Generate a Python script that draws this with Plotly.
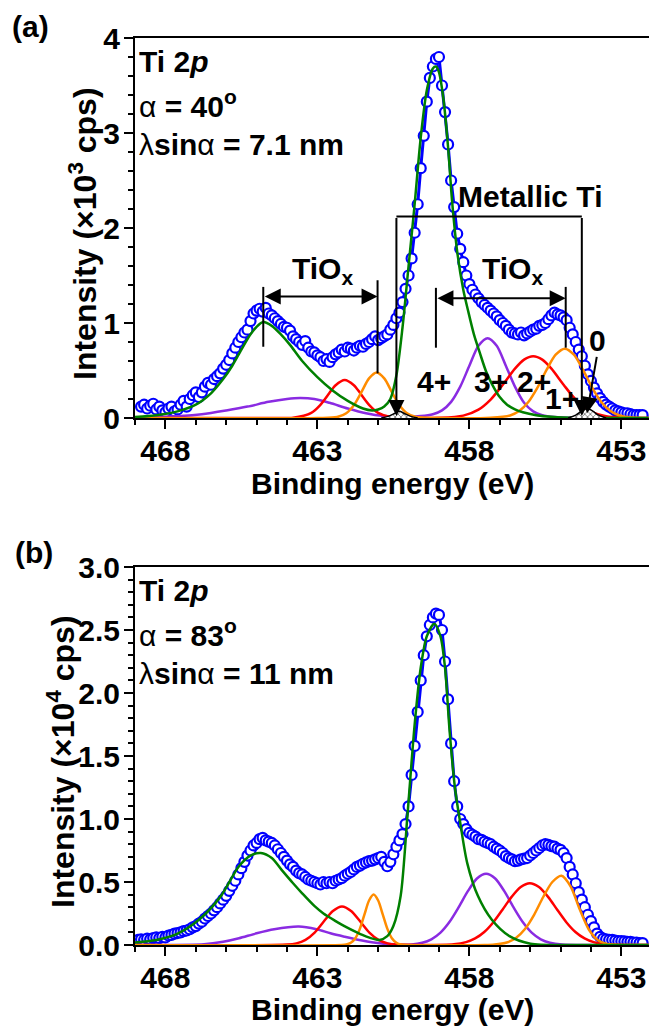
import plotly.graph_objects as go

# ---------------- data ----------------
E_GRID = [
    468.9, 468.8, 468.7, 468.6, 468.5, 468.4, 468.3, 468.2, 468.1, 468.0,
    467.9, 467.8, 467.7, 467.6, 467.5, 467.4, 467.3, 467.2, 467.1, 467.0,
    466.9, 466.8, 466.7, 466.6, 466.5, 466.4, 466.3, 466.2, 466.1, 466.0,
    465.9, 465.8, 465.7, 465.6, 465.5, 465.4, 465.3, 465.2, 465.1, 465.0,
    464.9, 464.8, 464.7, 464.6, 464.5, 464.4, 464.3, 464.2, 464.1, 464.0,
    463.9, 463.8, 463.7, 463.6, 463.5, 463.4, 463.3, 463.2, 463.1, 463.0,
    462.9, 462.8, 462.7, 462.6, 462.5, 462.4, 462.3, 462.2, 462.1, 462.0,
    461.9, 461.8, 461.7, 461.6, 461.5, 461.4, 461.3, 461.2, 461.1, 461.0,
    460.9, 460.8, 460.7, 460.6, 460.5, 460.4, 460.3, 460.2, 460.1, 460.0,
    459.9, 459.8, 459.7, 459.6, 459.5, 459.4, 459.3, 459.2, 459.1, 459.0,
    458.9, 458.8, 458.7, 458.6, 458.5, 458.4, 458.3, 458.2, 458.1, 458.0,
    457.9, 457.8, 457.7, 457.6, 457.5, 457.4, 457.3, 457.2, 457.1, 457.0,
    456.9, 456.8, 456.7, 456.6, 456.5, 456.4, 456.3, 456.2, 456.1, 456.0,
    455.9, 455.8, 455.7, 455.6, 455.5, 455.4, 455.3, 455.2, 455.1, 455.0,
    454.9, 454.8, 454.7, 454.6, 454.5, 454.4, 454.3, 454.2, 454.1, 454.0,
    453.9, 453.8, 453.7, 453.6, 453.5, 453.4, 453.3, 453.2, 453.1, 453.0,
    452.9, 452.8, 452.7, 452.6, 452.5, 452.4, 452.3,
]

# panel (a): x10^3 cps
I_TOP = [
    None, 0.12, 0.14, 0.10, 0.13, 0.15, 0.09, 0.12, 0.08, 0.06,
    0.10, 0.12, 0.07, 0.09, 0.14, 0.18, 0.12, 0.20, 0.24, 0.27,
    0.22, 0.27, 0.33, 0.37, 0.35, 0.41, 0.44, 0.47, 0.52, 0.56,
    0.61, 0.68, 0.74, 0.80, 0.85, 0.90, 0.93, 1.02, 1.10, 1.13,
    1.15, 1.12, 1.16, 1.10, 1.08, 1.05, 1.02, 0.99, 0.96, 0.95,
    0.92, 0.86, 0.83, 0.80, 0.77, 0.81, 0.74, 0.70, 0.69, 0.66,
    0.64, 0.60, 0.62, 0.59, 0.64, 0.67, 0.69, 0.72, 0.70, 0.74,
    0.73, 0.71, 0.74, 0.76, 0.75, 0.78, 0.80, 0.83, 0.86, 0.82,
    0.84, 0.86, 0.88, 0.93, 0.98, 1.05, 1.11, 1.22, 1.36, 1.50,
    1.68, 1.95, 2.25, 2.63, 2.97, 3.33, 3.58, 3.70, 3.78, 3.80,
    3.50, 3.22, 2.88, 2.50, 2.22, 1.94, 1.78, 1.64, 1.50, 1.41,
    1.35, 1.30, 1.26, 1.22, 1.19, 1.16, 1.13, 1.10, 1.07, 1.03,
    1.00, 0.97, 0.93, 0.90, 0.89, 0.88, 0.90, 0.87, 0.89, 0.91,
    0.93, 0.94, 0.97, 0.98, 1.00, 1.04, 1.08, 1.11, 1.09, 1.08,
    1.06, 1.03, 0.95, 0.88, 0.80, 0.72, 0.65, 0.55, 0.46, 0.39,
    0.32, 0.26, 0.21, 0.17, 0.14, 0.12, 0.10, 0.08, 0.07, 0.06,
    0.05, 0.05, 0.04, 0.03, 0.03, 0.03, 0.03,
]

# panel (b): x10^4 cps
I_BOT = [
    0.04, 0.045, 0.04, 0.05, 0.045, 0.055, 0.06, 0.055, 0.065, 0.06,
    0.075, 0.08, 0.09, 0.095, 0.10, 0.11, 0.115, 0.125, 0.14, 0.15,
    0.17, 0.185, 0.21, 0.23, 0.25, 0.275, 0.30, 0.33, 0.36, 0.39,
    0.43, 0.47, 0.51, 0.56, 0.61, 0.66, 0.71, 0.75, 0.79, 0.81,
    0.84, 0.85, 0.83, 0.82, 0.81, 0.79, 0.76, 0.73, 0.70, 0.67,
    0.64, 0.62, 0.59, 0.57, 0.56, 0.54, 0.52, 0.51, 0.50, 0.49,
    0.48, 0.50, 0.49, 0.50, 0.49, 0.51, 0.52, 0.53, 0.55, 0.565,
    0.58, 0.60, 0.62, 0.63, 0.645, 0.655, 0.665, 0.67, 0.68, 0.69,
    0.70, 0.66, 0.625, 0.66, 0.72, 0.78, 0.83, 0.88, 0.96, 1.10,
    1.35, 1.58, 1.85, 2.10, 2.30, 2.45, 2.54, 2.60, 2.63, 2.62,
    2.50, 2.25, 1.95, 1.60, 1.30, 1.10, 1.00, 0.96, 0.92, 0.89,
    0.875, 0.86, 0.84, 0.835, 0.82, 0.81, 0.80, 0.78, 0.765, 0.75,
    0.73, 0.705, 0.69, 0.68, 0.665, 0.67, 0.68, 0.685, 0.69, 0.71,
    0.73, 0.75, 0.77, 0.79, 0.80, 0.795, 0.785, 0.78, 0.765, 0.755,
    0.73, 0.69, 0.62, 0.56, 0.49, 0.42, 0.36, 0.30, 0.24, 0.19,
    0.14, 0.09, 0.065, 0.05, 0.045, 0.04, 0.04, 0.035, 0.03, 0.03,
    0.028, 0.025, 0.025, 0.02, 0.02, 0.015, 0.015,
]

# fitted components, panel (a)
G_TOP_E = [469.0, 468.3, 467.6, 467.0, 466.5, 466.1, 465.8, 465.5, 465.2, 465.0, 464.78, 464.5, 464.2,
           463.9, 463.5, 463.0, 462.5, 462.0, 461.5, 461.2, 461.0, 460.8, 460.6, 460.4, 460.2, 460.0,
           459.8, 459.6, 459.4, 459.2, 459.1, 459.0, 458.85, 458.7, 458.57, 458.4, 458.2, 458.05, 457.85,
           457.65, 457.45, 457.26, 457.0, 456.76, 456.5, 456.24, 455.8, 455.2, 454.0, 452.1]
G_TOP_I = [0.01, 0.03, 0.07, 0.14, 0.26, 0.41, 0.55, 0.72, 0.88, 0.96, 1.01, 0.97, 0.88,
           0.77, 0.60, 0.43, 0.29, 0.18, 0.10, 0.08, 0.09, 0.12, 0.20, 0.45, 0.95, 1.60,
           2.25, 2.95, 3.45, 3.68, 3.70, 3.64, 3.35, 2.85, 2.29, 1.75, 1.35, 1.14, 0.88,
           0.68, 0.49, 0.36, 0.22, 0.14, 0.09, 0.06, 0.03, 0.01, 0.0, 0.0]

P_TOP_E = [469.0, 467.5, 466.8, 466.0, 465.3, 464.6, 464.0, 463.57, 463.1, 462.6, 462.0, 461.4, 460.8,
           460.2, 459.6, 459.2, 458.9, 458.6, 458.3, 458.0, 457.7, 457.4, 457.1, 456.8, 456.5, 456.2,
           455.9, 455.6, 455.2, 454.5, 452.1]
P_TOP_I = [0.0, 0.02, 0.04, 0.08, 0.12, 0.17, 0.20, 0.21, 0.20, 0.16, 0.10, 0.05, 0.02,
           0.01, 0.02, 0.04, 0.08, 0.17, 0.33, 0.55, 0.76, 0.84, 0.76, 0.55, 0.33, 0.16,
           0.07, 0.03, 0.01, 0.0, 0.0]

R_TOP_E = [469.0, 464.5, 463.8, 463.2, 462.9, 462.6, 462.4, 462.1, 461.8, 461.6, 461.3, 461.0, 460.6,
           460.0, 459.0, 458.2, 457.7, 457.3, 456.9, 456.5, 456.2, 455.9, 455.6, 455.3, 454.9, 454.5,
           454.0, 453.5, 452.8, 452.1]
R_TOP_I = [0.0, 0.0, 0.003, 0.054, 0.139, 0.265, 0.345, 0.40, 0.345, 0.265, 0.139, 0.054, 0.01,
           0.0, 0.002, 0.025, 0.088, 0.194, 0.35, 0.52, 0.615, 0.65, 0.615, 0.52, 0.35, 0.194,
           0.07, 0.018, 0.003, 0.0]

O_TOP_E = [469.0, 463.0, 462.35, 462.05, 461.8, 461.55, 461.3, 461.05, 460.8, 460.55, 460.3, 460.05,
           459.75, 459.0, 457.3, 456.66, 456.36, 456.06, 455.76, 455.46, 455.16, 454.86, 454.56,
           454.26, 453.96, 453.66, 453.36, 453.06, 452.66, 452.1]
O_TOP_I = [0.0, 0.0, 0.01, 0.05, 0.134, 0.273, 0.417, 0.48, 0.417, 0.273, 0.134, 0.05,
           0.01, 0.0, 0.003, 0.027, 0.073, 0.168, 0.32, 0.506, 0.666, 0.73, 0.666,
           0.506, 0.32, 0.168, 0.073, 0.027, 0.005, 0.0]

# metallic Ti (0) small hatched peaks, panel (a)
K1_E = [460.9, 460.65, 460.45, 460.3, 460.15, 459.95, 459.7]
K1_I = [0.0, 0.02, 0.05, 0.07, 0.05, 0.02, 0.0]
K2_E = [454.75, 454.5, 454.3, 454.12, 453.95, 453.75, 453.5]
K2_I = [0.0, 0.03, 0.075, 0.10, 0.075, 0.03, 0.0]

# fitted components, panel (b)
G_BOT_E = [469.0, 468.3, 467.6, 466.9, 466.2, 465.58, 465.2, 464.86, 464.5, 464.19, 463.8, 463.5, 463.1,
           462.8, 462.4, 462.11, 461.7, 461.42, 460.96, 460.7, 460.5, 460.26, 460.03, 459.8, 459.6,
           459.4, 459.15, 458.95, 458.8, 458.65, 458.47, 458.3, 458.07, 457.72, 457.26, 456.68, 455.99,
           454.5, 452.1]
G_BOT_I = [0.02, 0.04, 0.09, 0.20, 0.38, 0.625, 0.71, 0.73, 0.69, 0.60, 0.49, 0.41, 0.31,
           0.25, 0.19, 0.15, 0.10, 0.07, 0.04, 0.07, 0.15, 0.39, 1.05, 1.75, 2.20,
           2.45, 2.55, 2.45, 2.20, 1.70, 1.24, 0.97, 0.65, 0.39, 0.20, 0.07, 0.01,
           0.0, 0.0]

P_BOT_E = [469.0, 466.73, 466.1, 465.58, 465.0, 464.42, 463.61, 463.03, 462.57, 462.11, 461.53, 460.96,
           460.3, 459.9, 459.55, 459.25, 458.95, 458.65, 458.35, 458.05, 457.75, 457.45, 457.15, 456.85,
           456.55, 456.25, 455.95, 455.65, 455.35, 454.95, 454.0, 452.1]
P_BOT_I = [0.0, 0.005, 0.025, 0.053, 0.093, 0.125, 0.146, 0.125, 0.093, 0.066, 0.035, 0.013,
           0.003, 0.004, 0.018, 0.045, 0.098, 0.184, 0.30, 0.427, 0.528, 0.566, 0.528, 0.427,
           0.30, 0.184, 0.098, 0.045, 0.018, 0.004, 0.0, 0.0]

R_BOT_E = [469.0, 464.0, 463.69, 463.39, 463.09, 462.79, 462.49, 462.19, 461.89, 461.59, 461.29, 460.99,
           460.69, 460.39, 459.5, 458.51, 458.11, 457.81, 457.51, 457.21, 456.91, 456.61, 456.31, 456.01,
           455.71, 455.41, 455.11, 454.81, 454.51, 454.21, 453.91, 453.51, 452.1]
R_BOT_I = [0.0, 0.003, 0.013, 0.041, 0.099, 0.186, 0.27, 0.306, 0.27, 0.186, 0.099, 0.041,
           0.013, 0.003, 0.0, 0.006, 0.023, 0.052, 0.103, 0.181, 0.28, 0.382, 0.46, 0.49,
           0.46, 0.382, 0.28, 0.181, 0.103, 0.052, 0.023, 0.006, 0.0]

O_BOT_E = [469.0, 462.2, 462.05, 461.9, 461.75, 461.6, 461.45, 461.3, 461.15, 461.0, 460.85, 460.7,
           460.55, 460.4, 460.25, 460.0, 457.5, 457.17, 456.77, 456.47, 456.17, 455.87, 455.57, 455.27,
           454.97, 454.67, 454.37, 454.07, 453.77, 453.47, 453.0, 452.1]
O_BOT_I = [0.0, 0.0, 0.004, 0.018, 0.054, 0.13, 0.243, 0.353, 0.40, 0.353, 0.243, 0.13,
           0.054, 0.018, 0.004, 0.0, 0.0, 0.004, 0.02, 0.055, 0.127, 0.24, 0.381, 0.50,
           0.55, 0.466, 0.283, 0.123, 0.038, 0.009, 0.0, 0.0]

X_TICKS = [468, 463, 458, 453]

# ---------------- styling ----------------
W, H = 649, 1027
FONT = "Liberation Sans, Arial, sans-serif"
BLUE = "#0000FF"
GREEN = "#008000"
PURPLE = "#8A2BE2"
RED = "#FF0000"
ORANGE = "#FF8C00"
FS = 30
FS_TICK = 30
FS_YT = 32


def px(x):
    return x / W


def py(y):
    return 1 - y / H


fig = go.Figure()


def add_panel(xa, ya, I_data, comps):
    fig.add_trace(go.Scatter(
        x=E_GRID, y=I_data, xaxis=xa, yaxis=ya, mode="lines+markers",
        line=dict(color=BLUE, width=3),
        marker=dict(symbol="circle", size=10, color="white", line=dict(color=BLUE, width=2.2)),
        showlegend=False, hoverinfo="skip"))
    for ex, iy, col in comps:
        fig.add_trace(go.Scatter(
            x=ex, y=iy, xaxis=xa, yaxis=ya, mode="lines",
            line=dict(color=col, width=2.5, shape="spline", smoothing=0.8),
            showlegend=False, hoverinfo="skip"))


add_panel("x", "y", I_TOP,
          [(P_TOP_E, P_TOP_I, PURPLE), (R_TOP_E, R_TOP_I, RED),
           (O_TOP_E, O_TOP_I, ORANGE), (G_TOP_E, G_TOP_I, GREEN)])
for ex, iy in [(K1_E, K1_I), (K2_E, K2_I)]:
    fig.add_trace(go.Scatter(
        x=ex, y=iy, xaxis="x", yaxis="y", mode="lines", fill="tozeroy",
        fillpattern=dict(shape="x", fgcolor="black", bgcolor="white", size=4, solidity=0.4),
        line=dict(color="black", width=1.5, shape="spline"),
        showlegend=False, hoverinfo="skip"))
add_panel("x2", "y2", I_BOT,
          [(P_BOT_E, P_BOT_I, PURPLE), (R_BOT_E, R_BOT_I, RED),
           (O_BOT_E, O_BOT_I, ORANGE), (G_BOT_E, G_BOT_I, GREEN)])

x_left = 135
top_a, bot_a = 38, 418
top_b, bot_b = 567, 945

tickfont = dict(family=FONT, size=FS_TICK, color="black", weight="bold")
xcommon = dict(range=[469, 452.09], tickmode="array", tickvals=X_TICKS,
               ticks="outside", ticklen=9, tickwidth=2, tickcolor="black",
               showline=True, linewidth=2, linecolor="black", mirror=True,
               showgrid=False, zeroline=False, tickfont=tickfont, automargin=False,
               ticklabelstandoff=-4,
               minor=dict(tickmode="linear", tick0=468, dtick=1, ticks="outside",
                          ticklen=5, tickwidth=2, tickcolor="black", showgrid=False))
ycommon = dict(ticks="outside", ticklen=9, tickwidth=2, tickcolor="black",
               showline=True, linewidth=2, linecolor="black", mirror=False,
               showgrid=False, zeroline=False, tickfont=tickfont, automargin=False,
               ticklabelstandoff=-2)

fig.update_layout(
    width=W, height=H, margin=dict(l=0, r=0, t=0, b=0),
    paper_bgcolor="white", plot_bgcolor="white", showlegend=False,
    font=dict(family=FONT, size=FS, color="black"),
    xaxis=dict(domain=[px(x_left), 1.0], anchor="y", **xcommon),
    yaxis=dict(domain=[py(bot_a), py(top_a)], anchor="x", range=[0, 4], tickmode="linear",
               tick0=0, dtick=1,
               minor=dict(tickmode="linear", tick0=0, dtick=0.2, ticks="outside", ticklen=5,
                          tickwidth=2, tickcolor="black", showgrid=False),
               **ycommon),
    xaxis2=dict(domain=[px(x_left), 1.0], anchor="y2", **xcommon),
    yaxis2=dict(domain=[py(bot_b), py(top_b)], anchor="x2", range=[0, 3.0], tickmode="linear",
                tick0=0, dtick=0.5, tickformat=".1f",
                minor=dict(tickmode="linear", tick0=0, dtick=0.1, ticks="outside", ticklen=5,
                           tickwidth=2, tickcolor="black", showgrid=False),
                **ycommon),
)

ann = []


def ptext(text, x, y, xanchor="center", yanchor="middle", angle=0, size=FS):
    ann.append(dict(text=text, x=px(x), y=py(y), xref="paper", yref="paper",
                    xanchor=xanchor, yanchor=yanchor, showarrow=False, textangle=angle,
                    font=dict(family=FONT, size=size, color="black", weight="bold")))


def dtext(text, x, y, xr, yr, xanchor="center", yanchor="middle"):
    ann.append(dict(text=text, x=x, y=y, xref=xr, yref=yr, xanchor=xanchor, yanchor=yanchor,
                    showarrow=False,
                    font=dict(family=FONT, size=FS, color="black", weight="bold")))


def arrow(x, y, ax, ay, xr, yr, both=False):
    ann.append(dict(text="", x=x, y=y, ax=ax, ay=ay, xref=xr, yref=yr, axref=xr, ayref=yr,
                    showarrow=True, arrowhead=2, arrowsize=1.6, arrowwidth=2,
                    arrowcolor="black", standoff=0, startstandoff=0,
                    startarrowhead=2, startarrowsize=1.6,
                    arrowside="end+start" if both else "end"))


NORM = "<span style='font-weight:normal'>"
# panel labels
ptext("(a)", 30, 26)
ptext("(b)", 34, 552)
# axis titles
ptext("Binding energy (eV)", 392, 483)
ptext("Binding energy (eV)", 392, 1009)
ptext("Intensity (×10<sup>3</sup> cps)", 83, 234, angle=-90, size=FS_YT)
ptext("Intensity (×10<sup>4</sup> cps)", 61, 762, angle=-90, size=FS_YT)
# inner labels
for top, ang, dist in [(top_a, "40", "7.1"), (top_b, "83", "11")]:
    ptext("Ti 2<i>p</i>", 137, top + 23, xanchor="left")
    ptext(NORM + "α</span> = " + ang + "<sup>o</sup>", 137, top + 66, xanchor="left")
    ptext(NORM + "λ</span>sin" + NORM + "α</span> = " + dist + " nm", 137, top + 106,
          xanchor="left")

# panel (a) annotation structure
shapes = []


def vline(x, y0, y1):
    shapes.append(dict(type="line", xref="x", yref="y", x0=x, x1=x, y0=y0, y1=y1,
                       line=dict(color="black", width=2)))


vline(464.78, 0.75, 1.38)
vline(461.02, 0.47, 1.45)
vline(459.1, 0.74, 1.37)
vline(454.83, 0.74, 1.38)
shapes.append(dict(type="line", xref="x", yref="y", x0=460.4, x1=454.3, y0=2.12, y1=2.12,
                   line=dict(color="black", width=2)))
arrow(461.02, 1.28, 464.78, 1.28, "x", "y", both=True)
arrow(454.83, 1.26, 459.1, 1.26, "x", "y", both=True)
arrow(460.4, 0.02, 460.4, 2.12, "x", "y")
arrow(454.3, 0.02, 454.3, 2.12, "x", "y")
arrow(454.13, 0.05, 453.8, 0.66, "x", "y")

dtext("TiO<sub>x</sub>", 463.9, 1.55, "x", "y", xanchor="left")
dtext("TiO<sub>x</sub>", 457.65, 1.55, "x", "y", xanchor="left")
dtext("Metallic Ti", 456.0, 2.33, "x", "y")
dtext("4+", 459.15, 0.38, "x", "y")
dtext("3+", 457.3, 0.38, "x", "y")
dtext("2+", 455.88, 0.38, "x", "y")
dtext("1+", 454.95, 0.21, "x", "y")
dtext("0", 453.77, 0.82, "x", "y")

fig.update_layout(annotations=ann, shapes=shapes)
fig.write_html("out.html")
